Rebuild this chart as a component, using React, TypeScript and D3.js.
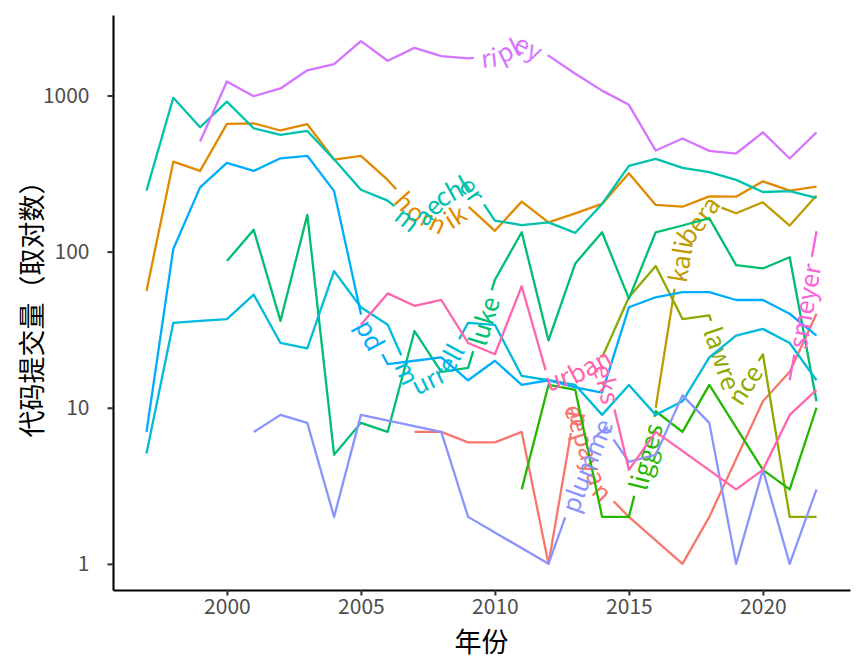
import React, { useEffect, useRef } from "react";
import * as d3 from "d3";

// commit counts per year for each R core member (null = no commits that year)
const years = [1997, 1998, 1999, 2000, 2001, 2002, 2003, 2004, 2005, 2006, 2007, 2008, 2009,
  2010, 2011, 2012, 2013, 2014, 2015, 2016, 2017, 2018, 2019, 2020, 2021, 2022];

const deepayan = [null, null, null, null, null, null, null, null, null, null, 7, 7, 6,
  6, 7, 1, 10, 3, 2, null, 1, 2, null, 11, 17, 40];
const hornik = [56, 377, 329, 658, 664, 597, 655, 389, 411, 288, 185, 152, 195,
  136, 209, 154, 176, 202, 318, 199, 194, 226, 225, 282, 246, 261];
const kalibera = [null, null, null, null, null, null, null, null, null, null, null, null, null,
  null, null, null, null, null, null, 10, 120, 205, 176, 207, 147, 229];
const lawrence = [null, null, null, null, null, null, null, null, null, null, null, null, null,
  null, null, null, null, 21, 51, 81, 37, 39, 12, 22, 2, 2];
const ligges = [null, null, null, null, null, null, null, null, null, null, null, null, null,
  null, 3, 14, 13, 2, 2, 9.5, 7, 14, null, 4, 3, 10];
const luke = [null, null, null, 87, 138, 36, 172, 5, 8, 7, 31, 17, 18,
  66, 133, 27, 84, 133, 50, 133, 147, 164, 82, 78, 92, 11];
const maechler = [246, 967, 626, 914, 617, 560, 593, 390, 249, 212, 153, 229, 285,
  158, 148, 154, 132, 202, 354, 393, 344, 323, 288, 241, 244, 221];
const murrell = [5.1, 35, 36, 37, 53, 26, 24, 75, 44, 34, 14, 17, 35,
  34, 16, 15, 14, 9, 14, 9, 11, 21, 29, 32, 26, 15];
const pd = [7, 104, 258, 370, 329, 396, 411, 244, 40, 19, 20, 21, 15,
  20, 14, 15, 13.5, 12.5, 44, 51, 55, 55, 49, 49, 40, 29];
const plummer = [null, null, null, null, 7, 9, 8, 2, 9, null, null, 7, 2,
  null, null, 1, 3, 8, 4.5, 5, 12, 8, 1, 4, 1, 3];
const ripley = [null, null, 507, 1230, 990, 1110, 1450, 1590, 2230, 1670, 2020, 1790, 1730,
  1800, 2200, 1800, 1380, 1075, 872, 444, 530, 442, 425, 580, 395, 580];
const smeyer = [null, null, null, null, null, null, null, null, null, null, null, null, null,
  null, null, null, null, null, null, null, null, null, null, null, 15, 135];
const urbaneks = [null, null, null, null, null, null, null, null, 34, 54, 45, 49, 26,
  22, 60, 15, 17, 21, 4, 7, null, null, 3, 4, 9, 13];

const authors = ["deepayan", "hornik", "kalibera", "lawrence", "ligges", "luke", "maechler",
  "murrell", "pd", "plummer", "ripley", "smeyer", "urbaneks"];
const counts = [deepayan, hornik, kalibera, lawrence, ligges, luke, maechler,
  murrell, pd, plummer, ripley, smeyer, urbaneks];
const colors = ["#F8766D", "#E18A00", "#BE9C00", "#8CAB00", "#24B700", "#00BE70", "#00C1AB",
  "#00BBDA", "#00ACFC", "#8B93FF", "#D575FE", "#F962DD", "#FF65AC"];

const xTicks = [2000, 2005, 2010, 2015, 2020];
const yTicks = [1, 10, 100, 1000];

const width = 864, height = 672;
const panel = { left: 113, right: 850, top: 15, bottom: 590 };
const font = '"Noto Sans CJK SC", "Noto Sans", sans-serif';

const drawChart = (el: SVGSVGElement | null) => {
  if (!el) return;
  const svg = d3.select(el);
  svg.selectAll("*").remove();

  // 5% expansion on both scales, like ggplot
  const [x0, x1] = d3.extent(years) as [number, number];
  const xPad = (x1 - x0) * 0.05;
  const x = d3.scaleLinear().domain([x0 - xPad, x1 + xPad]).range([panel.left, panel.right]);

  const all = counts.flat().filter((v) => v != null) as number[];
  const lo = Math.log10(d3.min(all) as number), hi = Math.log10(d3.max(all) as number);
  const yPad = (hi - lo) * 0.05;
  const y = d3.scaleLog().domain([10 ** (lo - yPad), 10 ** (hi + yPad)]).range([panel.bottom, panel.top]);

  const line = d3.line<[number, number]>().x((d) => x(d[0])).y((d) => y(d[1]));

  // each author: a line broken in the middle, with the name written along it
  authors.forEach((name, i) => {
    const pts = years
      .map((yr, j) => [yr, counts[i][j]] as [number, number | null])
      .filter((d) => d[1] != null) as [number, number][];
    const g = svg.append("g");
    const path = g.append("path")
      .attr("id", `line-${name}`)
      .attr("d", line(pts))
      .attr("fill", "none")
      .attr("stroke", colors[i])
      .attr("stroke-width", 2.3)
      .attr("stroke-linejoin", "round");

    const text = g.append("text")
      .attr("fill", colors[i])
      .style("font-family", font)
      .style("font-size", "25px");
    text.append("textPath")
      .attr("href", `#line-${name}`)
      .attr("startOffset", "50%")
      .attr("text-anchor", "middle")
      .attr("dominant-baseline", "central")
      .text(name);

    const L = (path.node() as SVGPathElement).getTotalLength();
    const tw = (text.node() as SVGTextElement).getComputedTextLength();
    const pad = 7;
    const a = Math.max(0, L / 2 - tw / 2 - pad);
    path.attr("stroke-dasharray", `${a} ${tw + 2 * pad} ${L}`);
  });

  // axes
  const xAxis = svg.append("g")
    .attr("transform", `translate(0,${panel.bottom})`)
    .call(d3.axisBottom(x).tickValues(xTicks).tickFormat(d3.format("d")).tickSize(5.5).tickSizeOuter(0).tickPadding(4));
  const yAxis = svg.append("g")
    .attr("transform", `translate(${panel.left},0)`)
    .call(d3.axisLeft(y).tickValues(yTicks).tickFormat(d3.format("d")).tickSize(5.5).tickSizeOuter(0).tickPadding(18));

  [xAxis, yAxis].forEach((ax) => {
    ax.select(".domain").attr("stroke", "#000").attr("stroke-width", 2.1);
    ax.selectAll(".tick line").attr("stroke", "#333").attr("stroke-width", 2.1);
    ax.selectAll(".tick text")
      .attr("fill", "#4D4D4D")
      .style("font-family", font)
      .style("font-size", "21px");
  });

  svg.append("text")
    .attr("x", (panel.left + panel.right) / 2)
    .attr("y", 640)
    .attr("text-anchor", "middle")
    .attr("dominant-baseline", "central")
    .style("font-family", font)
    .style("font-size", "27px")
    .text("年份");

  svg.append("text")
    .attr("transform", `translate(30,${(panel.top + panel.bottom) / 2}) rotate(-90)`)
    .attr("text-anchor", "middle")
    .attr("dominant-baseline", "central")
    .style("font-family", font)
    .style("font-size", "27px")
    .text("代码提交量（取对数）");
};

const App = () => {
  const ref = useRef<SVGSVGElement | null>(null);

  useEffect(() => {
    drawChart(ref.current);
  }, []);

  return (
    <svg
      ref={ref}
      width={width}
      height={height}
      style={{ position: "absolute", left: 0, top: 0, background: "#fff" }}
    />
  );
};

export default App;
